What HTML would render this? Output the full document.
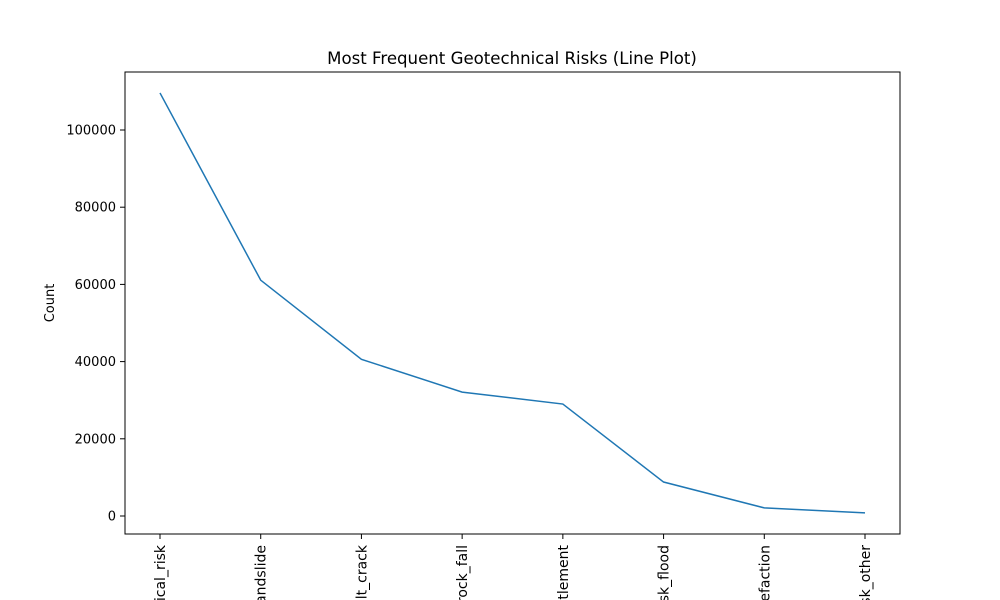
<!DOCTYPE html>
<html><head><meta charset="utf-8"><style>
html,body{margin:0;background:#fff;width:1000px;height:600px;overflow:hidden}
svg{display:block;overflow:hidden}
svg text{font-family:"DejaVu Sans","Liberation Sans",sans-serif;fill:#000}
</style></head><body>
<svg id="chart" width="1000" height="600" xmlns="http://www.w3.org/2000/svg">
<rect x="0" y="0" width="1000" height="600" fill="#fff"/>
<text x="512" y="64" font-size="16.6" text-anchor="middle">Most Frequent Geotechnical Risks (Line Plot)</text>
<text transform="translate(54,303) rotate(-90)" font-size="13" text-anchor="middle">Count</text>
<g id="axes"></g>
<rect x="125" y="72" width="775" height="462" fill="none" stroke="#000" stroke-width="1"/>
</svg>
<script>
const categories=["geotechnical_risk","landslide","fault_crack","rock_fall","settlement","risk_flood","liquefaction","risk_other"];
const counts=[109600,61100,40600,32100,29000,8800,2100,800];
const yTicks=[0,20000,40000,60000,80000,100000];
const NS="http://www.w3.org/2000/svg";
const g=document.getElementById('axes');
function xs(i){return 160+i*(865-160)/(categories.length-1);}
function ys(v){return 516-v*(516-130)/100000;}
function mk(t,a){const e=document.createElementNS(NS,t);for(const k in a)e.setAttribute(k,a[k]);g.appendChild(e);return e;}
yTicks.forEach(v=>{
  const y=ys(v);
  const l=mk('line',{x1:120,x2:125,y1:y,y2:y,stroke:'#000'});
  
  
  const t=mk('text',{x:116,y:y+4.5,'font-size':13,'text-anchor':'end'});
  t.textContent=v;
  
  
});
categories.forEach((c,i)=>{
  const x=xs(i);
  const l=mk('line',{x1:x,x2:x,y1:534,y2:539,stroke:'#000'});
  
  
  const t=mk('text',{transform:`translate(${x+5},545) rotate(-90)`,'font-size':14,'text-anchor':'end'});
  t.textContent=c;
  
  
});
const p=mk('polyline',{points:counts.map((v,i)=>xs(i)+','+ys(v)).join(' '),fill:'none',stroke:'#1f77b4','stroke-width':1.5});


</script>
</body></html>
